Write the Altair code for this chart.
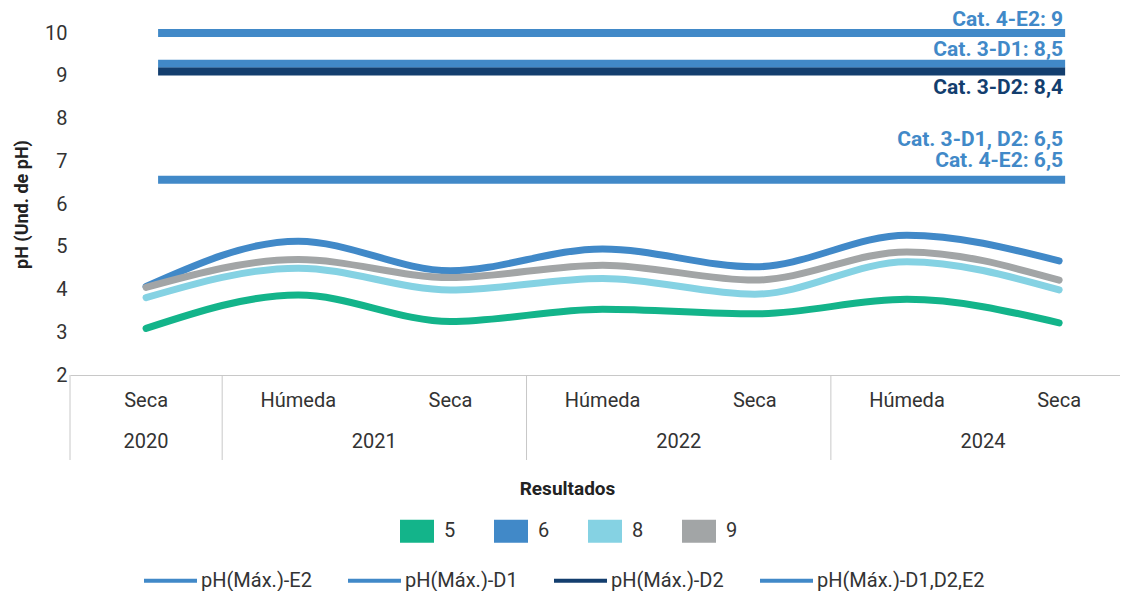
import altair as alt
import pandas as pd

# ---- data ----
idx = [0, 1, 2, 3, 4, 5, 6]
temporada = ["Seca", "Húmeda", "Seca", "Húmeda", "Seca", "Húmeda", "Seca"]
anios = ["2020", "2021", "2022", "2024"]
anio_centro = [0, 1.5, 3.5, 5.5]
separadores = [-0.5, 0.5, 2.5, 4.5]

series = ["5", "6", "8", "9"]
s5 = [3.09, 3.87, 3.25, 3.54, 3.43, 3.77, 3.22]
s6 = [4.07, 5.13, 4.44, 4.95, 4.53, 5.27, 4.67]
s8 = [3.81, 4.50, 3.99, 4.26, 3.89, 4.65, 3.99]
s9 = [4.05, 4.70, 4.28, 4.57, 4.22, 4.88, 4.22]
serie_colors = ["#13B48A", "#4189C8", "#85D2E3", "#A2A5A6"]

ref_names = ["pH(Máx.)-E2", "pH(Máx.)-D1", "pH(Máx.)-D2", "pH(Máx.)-D1,D2,E2"]
ref_values = [10.0, 9.28, 9.10, 6.57]
ref_start = [0, 0, 0, 0]
ref_end = [6, 6, 6, 6]
ref_colors = ["#4189C8", "#4189C8", "#133E6E", "#4189C8"]

label_texts = ["Cat. 4-E2: 9", "Cat. 3-D1: 8,5", "Cat. 3-D2: 8,4",
               "Cat. 3-D1, D2: 6,5", "Cat. 4-E2:  6,5"]
label_anchor = [10.0, 9.28, 9.10, 6.57, 6.57]
label_dy = [-13.5, -13.5, 17, -39.5, -18.5]
label_colors = ["#4189C8", "#4189C8", "#133E6E", "#4189C8", "#4189C8"]

# ---- tables ----
rows = []
for name, vals in zip(series, [s5, s6, s8, s9]):
    for i, v in zip(idx, vals):
        rows.append({"serie": name, "idx": i, "ph": v})
df_lines = pd.DataFrame(rows)
df_ref = pd.DataFrame({"name": ref_names, "value": ref_values,
                       "x0": ref_start, "x1": ref_end})
df_cat = pd.DataFrame({"idx": idx, "t": temporada})
df_year = pd.DataFrame({"idx": anio_centro, "t": anios})
df_sep = pd.DataFrame({"idx": separadores})

W, H = 1050, 342
xscale = alt.Scale(domain=[-0.5, 6.4], nice=False, zero=False)
yscale = alt.Scale(domain=[2, 10], nice=False, zero=False)
xaxis = alt.Axis(labels=False, ticks=False, grid=False, domainColor="#c8c8c8",
                 title="Resultados", titleFontSize=19, titleFontWeight="bold",
                 titleColor="#222222", titleX=497, titleY=113, titleBaseline="middle")
yaxis = alt.Axis(values=[2, 3, 4, 5, 6, 7, 8, 9, 10], grid=False, ticks=False, domain=False,
                 labelFontSize=20, labelColor="#333333", labelPadding=3,
                 title="pH (Und. de pH)", titleFontSize=18, titleFontWeight="bold",
                 titleColor="#222222", titleX=-48, titleY=171, titleAngle=-90,
                 titleAlign="center", titleBaseline="middle")

X = lambda f: alt.X(f, type="quantitative", scale=xscale, axis=xaxis)
Y = lambda f: alt.Y(f, type="quantitative", scale=yscale, axis=yaxis)

sep = alt.Chart(df_sep).mark_rule(color="#c8c8c8", strokeWidth=1).encode(
    x=X("idx"), y=alt.value(H), y2=alt.value(H + 85))

cat_text = alt.Chart(df_cat).mark_text(fontSize=20, color="#333333", baseline="middle").encode(
    x=X("idx"), y=alt.value(H + 26), text="t:N")
year_text = alt.Chart(df_year).mark_text(fontSize=20, color="#333333", baseline="middle").encode(
    x=X("idx"), y=alt.value(H + 67), text="t:N")

rules = alt.Chart(df_ref).mark_rule(strokeWidth=8, xOffset=12, x2Offset=6).encode(
    x=X("x0"), x2="x1", y=Y("value"),
    stroke=alt.Stroke("name:N", scale=alt.Scale(domain=ref_names, range=ref_colors),
                      legend=alt.Legend(orient="none", legendX=72, legendY=519,
                                        direction="horizontal", columns=4, title=None,
                                        symbolType="stroke", symbolSize=2809,
                                        symbolStrokeWidth=4, labelFontSize=20,
                                        labelColor="#333333", labelOffset=2,
                                        labelLimit=300, columnPadding=28, padding=0)))

labels = []
for t, a, dy, c in zip(label_texts, label_anchor, label_dy, label_colors):
    d = pd.DataFrame({"x": [ref_end[0]], "y": [a], "t": [t]})
    labels.append(alt.Chart(d).mark_text(align="right", baseline="middle", dx=4, dy=dy,
                                         fontSize=21, fontWeight="bold", color=c).encode(
        x=X("x"), y=Y("y"), text="t:N"))

# hidden filled points that carry the square legend (covered by the lines)
legend_pts = alt.Chart(df_lines).mark_point(filled=True, size=1, opacity=1).encode(
    x=X("idx"), y=Y("ph"),
    fill=alt.Fill("serie:N", scale=alt.Scale(domain=series, range=serie_colors),
                  legend=alt.Legend(orient="none", legendX=330, legendY=481,
                                    direction="horizontal", columns=4, title=None,
                                    symbolType="M-1,-0.68H1V0.68H-1Z", symbolSize=1156,
                                    symbolStrokeWidth=0, symbolOpacity=1,
                                    labelFontSize=20, labelColor="#333333",
                                    labelOffset=10, columnPadding=38, padding=0)))

lines = alt.Chart(df_lines).mark_line(interpolate="monotone", strokeWidth=7,
                                      strokeCap="round").encode(
    x=X("idx"), y=Y("ph"),
    color=alt.Color("serie:N", scale=alt.Scale(domain=series, range=serie_colors),
                    legend=None))

chart = alt.layer(sep, cat_text, year_text, rules, *labels, legend_pts, lines).properties(
    width=W, height=H,
    padding={"left": 62, "top": 25, "right": 0, "bottom": 216},
    autosize=alt.AutoSizeParams(type="none"),
).configure(font="Roboto").configure_view(stroke=None)

chart.save("out.html", embed_options={"renderer": "svg", "actions": False})
